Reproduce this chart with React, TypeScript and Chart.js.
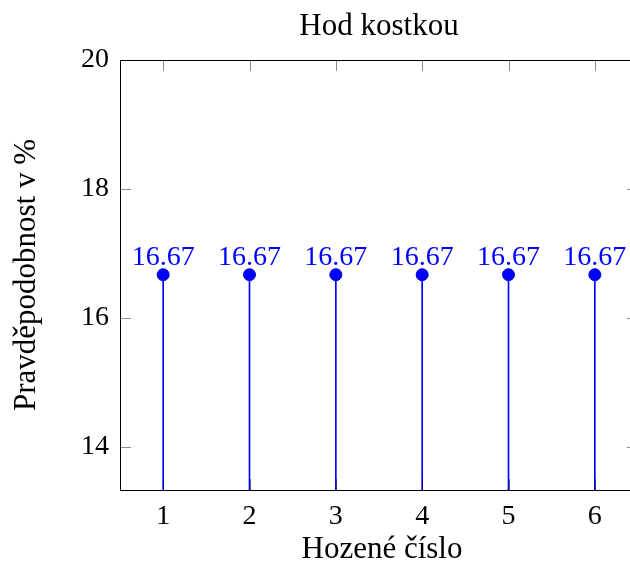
import React, { useEffect, useRef } from "react";
import { Chart, registerables } from "chart.js";

Chart.register(...registerables);

const categories = ["1", "2", "3", "4", "5", "6"];
const probabilities = [16.67, 16.67, 16.67, 16.67, 16.67, 16.67];
const yTickValues = [14, 16, 18, 20];
const yMin = 13.33;
const yMax = 20;
const chartTitle = "Hod kostkou";
const xTitle = "Hozené číslo";
const yTitle = "Pravděpodobnost v %";

const FONT = "'Liberation Serif', 'DejaVu Serif', serif";
const BLUE = "#0000ff";

const framePlugin = {
  id: "framePlugin",
  afterDatasetsDraw(chart: any) {
    const ctx = chart.ctx;
    const { left, right, top, bottom } = chart.chartArea;
    const xs = chart.scales.x;
    const ys = chart.scales.y;
    ctx.save();
    // inward ticks
    ctx.strokeStyle = "rgba(0,0,0,0.45)";
    ctx.lineWidth = 1;
    const tl = 11;
    xs.ticks.forEach((_t: any, i: number) => {
      const px = Math.round(xs.getPixelForTick(i)) + 0.5;
      ctx.beginPath();
      ctx.moveTo(px, top);
      ctx.lineTo(px, top + tl);
      ctx.moveTo(px, bottom);
      ctx.lineTo(px, bottom - tl);
      ctx.stroke();
    });
    yTickValues.forEach((v) => {
      const py = Math.round(ys.getPixelForValue(v)) + 0.5;
      ctx.beginPath();
      ctx.moveTo(left, py);
      ctx.lineTo(left + tl, py);
      ctx.moveTo(right, py);
      ctx.lineTo(right - tl, py);
      ctx.stroke();
    });
    // frame
    ctx.strokeStyle = "#000";
    ctx.lineWidth = 1;
    ctx.strokeRect(left + 0.5, top + 0.5, right - left, bottom - top);
    // data labels
    ctx.fillStyle = BLUE;
    ctx.font = `28px ${FONT}`;
    ctx.textAlign = "center";
    ctx.textBaseline = "alphabetic";
    const meta = chart.getDatasetMeta(0);
    meta.data.forEach((pt: any, i: number) => {
      ctx.fillText(probabilities[i].toFixed(2), pt.x, pt.y - 10);
    });
    // titles
    ctx.fillStyle = "#000";
    ctx.font = `31px ${FONT}`;
    const cx = (left + right) / 2;
    ctx.fillText(chartTitle, cx, 35);
    ctx.fillText(xTitle, cx + 3, 558);
    ctx.save();
    ctx.translate(35, (top + bottom) / 2);
    ctx.rotate(-Math.PI / 2);
    ctx.fillText(yTitle, 0, 0);
    ctx.restore();
    ctx.restore();
  },
};

export default function App() {
  const ref = useRef<HTMLCanvasElement | null>(null);
  useEffect(() => {
    if (!ref.current) return;
    const chart = new Chart(ref.current, {
      type: "bar",
      data: {
        labels: categories,
        datasets: [
          {
            type: "line",
            data: probabilities,
            showLine: false,
            pointRadius: 6,
            pointHoverRadius: 6,
            pointBackgroundColor: BLUE,
            pointBorderColor: "#0000d0",
            pointBorderWidth: 1,
            borderColor: BLUE,
          } as any,
          {
            type: "bar",
            data: probabilities,
            barThickness: 1,
            backgroundColor: BLUE,
            borderWidth: 0,
          } as any,
        ],
      },
      options: {
        responsive: false,
        animation: false,
        devicePixelRatio: 1,
        layout: { padding: { top: 60, right: 12, left: 0, bottom: 0 } },
        plugins: {
          legend: { display: false },
          tooltip: { enabled: false },
          title: { display: false },
        },
        scales: {
          x: {
            type: "category",
            offset: true,
            grid: { display: false, drawTicks: false },
            border: { display: false },
            ticks: {
              color: "#000",
              font: { family: FONT, size: 28 },
              padding: 10,
              maxRotation: 0,
            },
            afterFit(scale: any) {
              scale.height = 72;
            },
          },
          y: {
            type: "linear",
            min: yMin,
            max: yMax,
            grid: { display: false, drawTicks: false },
            border: { display: false },
            ticks: {
              color: "#000",
              font: { family: FONT, size: 28 },
              padding: 11,
            },
            afterBuildTicks(scale: any) {
              scale.ticks = yTickValues.map((v) => ({ value: v }));
            },
            afterFit(scale: any) {
              scale.width = 120;
            },
          },
        },
      },
      plugins: [framePlugin],
    });
    return () => chart.destroy();
  }, []);
  return (
    <div
      style={{
        position: "fixed",
        left: 0,
        top: 0,
        width: 630,
        height: 562,
        overflow: "hidden",
        background: "#fff",
      }}
    >
      <canvas ref={ref} width={650} height={562} style={{ display: "block" }} />
    </div>
  );
}
